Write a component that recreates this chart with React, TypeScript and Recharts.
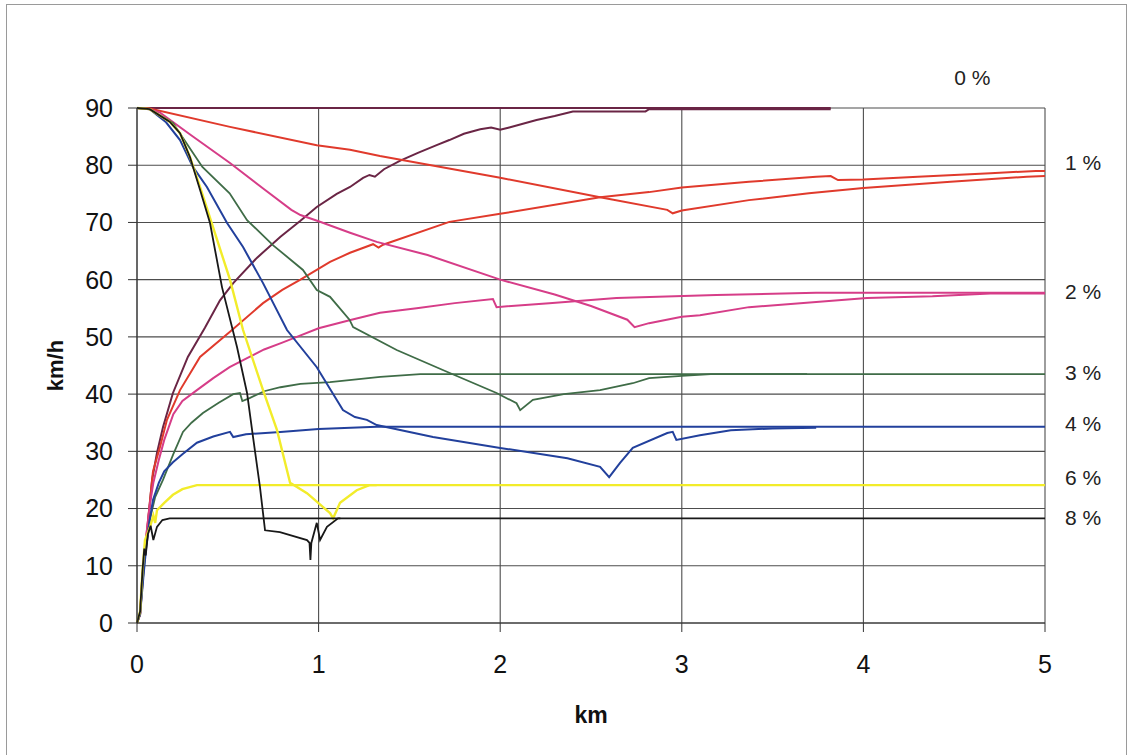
import { CartesianGrid, Line, LineChart, ReferenceDot, XAxis, YAxis } from 'recharts';

type Pt = [number, number];

// km, km/h. "acc" = run-up from standstill, "dec" = run-down from 90 km/h
const acc0: Pt[] = [
  [0, 0], [0.017, 1.7], [0.028, 7.5], [0.055, 15.7], [0.083, 25], [0.11, 29.7], [0.143, 34.2], [0.198, 40.2],
  [0.28, 46.5], [0.374, 51.6], [0.457, 56.4], [0.53, 59.4], [0.66, 63.8], [0.79, 67.5], [0.9, 70.3], [0.99, 72.7],
  [1.1, 75], [1.173, 76.2], [1.245, 77.8], [1.28, 78.3], [1.31, 78], [1.36, 79.3], [1.45, 80.8], [1.55, 82.2],
  [1.65, 83.5], [1.72, 84.4], [1.8, 85.5], [1.89, 86.3], [1.95, 86.6], [2.0, 86.2], [2.05, 86.6], [2.2, 87.9],
  [2.3, 88.6], [2.4, 89.4], [2.8, 89.4], [2.82, 89.8], [3.82, 89.8],
];
const dec0: Pt[] = [[0, 90], [3.82, 90]];

const acc1: Pt[] = [
  [0, 0], [0.017, 1.5], [0.03, 8], [0.055, 16.2], [0.088, 26.5], [0.127, 30.8], [0.165, 35.5], [0.237, 40.7],
  [0.347, 46.5], [0.512, 50.9], [0.694, 55.9], [0.8, 58.2], [0.9, 60], [1.063, 63.1], [1.173, 64.7], [1.3, 66.2],
  [1.33, 65.6], [1.355, 66.1], [1.72, 70.1], [2.0, 71.5], [2.55, 74.4], [2.82, 75.3], [3.0, 76.1], [3.37, 77.1],
  [3.74, 78], [3.82, 78.1], [3.86, 77.4], [4.0, 77.5], [4.3, 78], [4.7, 78.6], [4.95, 79], [5, 79],
];
const dec1: Pt[] = [
  [0, 90], [0.07, 89.9], [0.512, 86.7], [0.99, 83.5], [1.173, 82.7], [1.338, 81.6], [2.0, 77.8], [2.55, 74.4],
  [2.92, 72.2], [2.95, 71.6], [3.0, 72.1], [3.37, 73.9], [3.7, 75.1], [4.0, 76], [4.48, 77.1], [4.9, 78], [5, 78.1],
];

const acc2: Pt[] = [
  [0, 0], [0.017, 1.5], [0.035, 9], [0.05, 15], [0.07, 20.5], [0.09, 24.5], [0.12, 28.5], [0.15, 32], [0.2, 36.5],
  [0.25, 38.8], [0.33, 40.7], [0.42, 42.8], [0.51, 44.7], [0.606, 46.3], [0.7, 47.8], [0.8, 49], [0.88, 50],
  [1.0, 51.5], [1.17, 52.9], [1.338, 54.2], [1.54, 55], [1.75, 55.9], [1.96, 56.6], [1.98, 55.2], [2.27, 55.9],
  [2.64, 56.8], [3.19, 57.3], [3.74, 57.7], [5, 57.7],
];
const dec2: Pt[] = [
  [0, 90], [0.07, 89.8], [0.127, 89.2], [0.3, 85.2], [0.512, 80.4], [0.7, 75.8], [0.85, 72.2], [0.9, 71.3],
  [1.0, 70.2], [1.173, 68.2], [1.32, 66.6], [1.6, 64.3], [2.0, 60], [2.3, 57.4], [2.5, 55.4], [2.7, 53],
  [2.74, 51.7], [2.82, 52.4], [3.0, 53.5], [3.1, 53.8], [3.37, 55.2], [3.74, 56.1], [4.02, 56.8], [4.38, 57.1],
  [4.7, 57.6], [5, 57.6],
];

const acc3: Pt[] = [
  [0, 0], [0.017, 1.5], [0.035, 8.5], [0.05, 13.5], [0.07, 18], [0.1, 22], [0.143, 25], [0.2, 29.5], [0.253, 33.4],
  [0.3, 35], [0.363, 36.7], [0.45, 38.5], [0.53, 40], [0.567, 40.2], [0.58, 38.8], [0.62, 39.3], [0.7, 40.5],
  [0.79, 41.2], [0.9, 41.8], [1.063, 42.1], [1.34, 43], [1.56, 43.5], [5, 43.5],
];
const dec3: Pt[] = [
  [0, 90], [0.07, 89.8], [0.198, 87.4], [0.28, 83.5], [0.36, 79.7], [0.51, 75.1], [0.606, 70.4], [0.75, 66],
  [0.914, 61.7], [0.99, 58.2], [1.063, 57], [1.17, 53], [1.19, 51.7], [1.43, 47.7], [1.7, 44], [1.98, 40.2],
  [2.09, 38.4], [2.11, 37.2], [2.18, 39], [2.35, 40], [2.55, 40.7], [2.73, 41.9], [2.82, 42.8], [3.0, 43.2],
  [3.16, 43.5], [3.69, 43.5],
];

const acc4: Pt[] = [
  [0, 0], [0.017, 1.5], [0.035, 8], [0.05, 13], [0.07, 18], [0.088, 21.5], [0.12, 24.5], [0.15, 26.5],
  [0.198, 28.1], [0.25, 29.5], [0.33, 31.5], [0.42, 32.6], [0.512, 33.4], [0.53, 32.5], [0.6, 33], [0.79, 33.4],
  [1.0, 33.9], [1.32, 34.3], [5, 34.3],
];
const dec4: Pt[] = [
  [0, 90], [0.07, 89.8], [0.16, 87.5], [0.237, 84.4], [0.308, 79.7], [0.385, 76.2], [0.496, 69.9], [0.584, 65.7],
  [0.694, 59.4], [0.826, 51.2], [0.99, 44.7], [1.134, 37.2], [1.2, 36], [1.266, 35.5], [1.32, 34.6], [1.63, 32.5],
  [2.0, 30.6], [2.37, 28.8], [2.55, 27.3], [2.6, 25.5], [2.66, 28], [2.73, 30.6], [2.92, 33.2], [2.95, 33.4],
  [2.97, 32], [3.1, 32.8], [3.27, 33.7], [3.5, 34], [3.74, 34.1],
];

const acc6: Pt[] = [
  [0, 0], [0.017, 2], [0.03, 9], [0.044, 14.5], [0.072, 16.8], [0.09, 18.8], [0.1, 17.5], [0.11, 19.7],
  [0.15, 21], [0.198, 22.4], [0.25, 23.4], [0.33, 24.1], [5, 24.1],
];
const dec6: Pt[] = [
  [0, 90], [0.07, 89.8], [0.18, 87.6], [0.237, 85.6], [0.292, 81.4], [0.347, 76.2], [0.512, 60], [0.584, 51.2],
  [0.694, 40.7], [0.771, 33.7], [0.843, 24.5], [0.936, 22.7], [1.063, 19.2], [1.08, 18.3], [1.118, 21],
  [1.21, 23.2], [1.28, 24.1], [1.32, 24.1],
];

const acc8: Pt[] = [
  [0, 0], [0.017, 2], [0.03, 9], [0.04, 13], [0.048, 11.8], [0.06, 15.5], [0.075, 17], [0.09, 14.5],
  [0.11, 16.8], [0.14, 18], [0.18, 18.3], [5, 18.3],
];
const dec8: Pt[] = [
  [0, 90], [0.07, 89.8], [0.18, 87.6], [0.237, 85.6], [0.292, 81.4], [0.347, 75.7], [0.402, 69.9], [0.468, 58.7],
  [0.551, 48.2], [0.606, 40.2], [0.639, 32.5], [0.677, 23.8], [0.705, 16.2], [0.787, 15.9], [0.936, 14.5],
  [0.95, 14], [0.955, 11], [0.96, 14], [0.99, 17.5], [1.008, 14.5], [1.046, 16.8], [1.107, 18.3], [1.12, 18.3],
];

const kmTicks = [0, 1, 2, 3, 4, 5];
const speedTicks = [0, 10, 20, 30, 40, 50, 60, 70, 80, 90];

// gradient labels at the right edge: [text, km, km/h]
const gradeLabels: [string, number, number][] = [
  ['1 %', 5, 80.4],
  ['2 %', 5, 58],
  ['3 %', 5, 43.7],
  ['4 %', 5, 34.8],
  ['6 %', 5, 25.5],
  ['8 %', 5, 18.5],
];
const topLabel: [string, number, number] = ['0 %', 4.6, 95.4];

const series: { key: string; pts: Pt[]; color: string; width: number }[] = [
  { key: 'dec0', pts: dec0, color: '#6a2545', width: 2 },
  { key: 'acc0', pts: acc0, color: '#6a2545', width: 2 },
  { key: 'dec1', pts: dec1, color: '#e03a2c', width: 2 },
  { key: 'acc1', pts: acc1, color: '#e03a2c', width: 2 },
  { key: 'dec2', pts: dec2, color: '#d63d88', width: 2 },
  { key: 'acc2', pts: acc2, color: '#d63d88', width: 2 },
  { key: 'dec3', pts: dec3, color: '#3f6c47', width: 1.8 },
  { key: 'acc3', pts: acc3, color: '#3f6c47', width: 1.8 },
  { key: 'dec4', pts: dec4, color: '#22409c', width: 2 },
  { key: 'acc4', pts: acc4, color: '#22409c', width: 2 },
  { key: 'dec6', pts: dec6, color: '#f2ec2a', width: 2.4 },
  { key: 'acc6', pts: acc6, color: '#f2ec2a', width: 2.4 },
  { key: 'acc8', pts: acc8, color: '#181818', width: 1.8 },
  { key: 'dec8', pts: dec8, color: '#181818', width: 1.8 },
];

const tickStyle = { fontSize: 25, fill: '#111' };
const labelStyle = { fontSize: 21, fill: '#222' };

export default function App() {
  return (
    <div
      style={{
        position: 'absolute',
        left: 0,
        top: 0,
        width: 1131,
        height: 755,
        overflow: 'hidden',
        background: '#fff',
        fontFamily: '"Liberation Sans", Arial, sans-serif',
      }}
    >
      <div
        style={{
          position: 'absolute',
          left: 6,
          top: 4,
          width: 1119,
          height: 770,
          border: '1.5px solid #9a9a9a',
        }}
      />
      <div style={{ position: 'absolute', left: 0, top: 0 }}>
        <LineChart width={1131} height={755} margin={{ top: 108, right: 86, bottom: 32, left: 55 }}>
          <CartesianGrid stroke="#4d4d4d" strokeWidth={1.1} />
          <XAxis
            dataKey="km"
            type="number"
            domain={[0, 5]}
            ticks={kmTicks}
            height={100}
            tickSize={9}
            tickMargin={23}
            tick={tickStyle}
            stroke="#333"
            allowDuplicatedCategory={false}
            label={{ value: 'km', position: 'insideBottom', offset: 0, fontSize: 23, fontWeight: 700, fill: '#111' }}
          />
          <YAxis
            type="number"
            domain={[0, 90]}
            ticks={speedTicks}
            width={82}
            tickSize={9}
            tickMargin={15}
            tick={tickStyle}
            stroke="#333"
            label={{
              value: 'km/h',
              angle: -90,
              position: 'insideLeft',
              offset: 0,
              fontSize: 22,
              fontWeight: 700,
              fill: '#111',
              style: { textAnchor: 'middle' },
            }}
          />
          {series.map((s) => (
            <Line
              key={s.key}
              data={s.pts.map(([km, v]) => ({ km, v }))}
              dataKey="v"
              type="linear"
              stroke={s.color}
              strokeWidth={s.width}
              dot={false}
              activeDot={false}
              isAnimationActive={false}
            />
          ))}
          {gradeLabels.map(([text, km, v]) => (
            <ReferenceDot
              key={text}
              x={km}
              y={v}
              r={0}
              fill="none"
              stroke="none"
              ifOverflow="visible"
              label={{ value: text, position: 'right', offset: 20, ...labelStyle }}
            />
          ))}
          <ReferenceDot
            x={topLabel[1]}
            y={topLabel[2]}
            r={0}
            fill="none"
            stroke="none"
            ifOverflow="visible"
            label={{ value: topLabel[0], position: 'center', ...labelStyle }}
          />
        </LineChart>
      </div>
    </div>
  );
}
